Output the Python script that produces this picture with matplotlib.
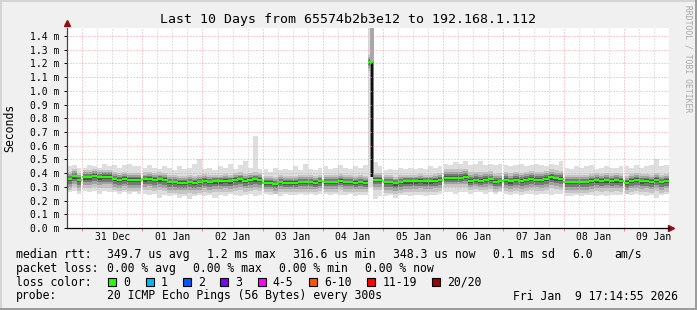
import numpy as np
import pandas as pd
import matplotlib
matplotlib.use("Agg")
import matplotlib.pyplot as plt
import matplotlib.dates as mdates
from matplotlib.patches import Rectangle

W, H = 697, 310
MONO = "DejaVu Sans Mono"

# smoke data, 2 hour bins starting 30 Dec 18:00 (values in ms)
t0 = "2025-12-30 18:00"
med = [0.357, 0.378, 0.350,
       0.370, 0.370, 0.380, 0.370, 0.375, 0.375, 0.357, 0.350, 0.360, 0.350, 0.350, 0.350,
       0.355, 0.360, 0.350, 0.355, 0.350, 0.335, 0.335, 0.330, 0.330, 0.335, 0.330, 0.335,
       0.345, 0.335, 0.340, 0.340, 0.345, 0.340, 0.350, 0.355, 0.345, 0.350, 0.355, 0.350,
       0.330, 0.330, 0.320, 0.335, 0.330, 0.330, 0.330, 0.335, 0.335, 0.335, 0.330, 0.340,
       0.335, 0.335, 0.335, 0.345, 0.335, 0.335, 0.330, 0.335, 0.330, 1.213, 0.350, 0.350,
       0.335, 0.335, 0.325, 0.335, 0.340, 0.340, 0.340, 0.345, 0.340, 0.340, 0.345, 0.350,
       0.367, 0.367, 0.367, 0.367, 0.372, 0.345, 0.352, 0.345, 0.350, 0.355, 0.335, 0.340,
       0.350, 0.340, 0.350, 0.343, 0.350, 0.357, 0.352, 0.350, 0.357, 0.370, 0.362, 0.357,
       0.335, 0.335, 0.335, 0.335, 0.335, 0.343, 0.348, 0.345, 0.348, 0.345, 0.348, 0.345,
       0.330, 0.345, 0.350, 0.342, 0.345, 0.337, 0.350, 0.335, 0.345]
hi = [0.45, 0.46, 0.44,
      0.44, 0.46, 0.45, 0.44, 0.47, 0.45, 0.46, 0.44, 0.46, 0.47, 0.45, 0.45,
      0.44, 0.46, 0.44, 0.43, 0.45, 0.44, 0.42, 0.45, 0.43, 0.44, 0.47, 0.50,
      0.43, 0.44, 0.42, 0.45, 0.44, 0.47, 0.43, 0.46, 0.49, 0.44, 0.67, 0.43,
      0.43, 0.41, 0.44, 0.42, 0.43, 0.42, 0.45, 0.42, 0.47, 0.43, 0.42, 0.44,
      0.45, 0.43, 0.44, 0.46, 0.44, 0.43, 0.45, 0.44, 0.46, 1.46, 0.48, 0.45,
      0.42, 0.43, 0.42, 0.44, 0.43, 0.44, 0.43, 0.44, 0.43, 0.45, 0.44, 0.45,
      0.47, 0.46, 0.48, 0.47, 0.49, 0.46, 0.47, 0.49, 0.46, 0.47, 0.46, 0.47,
      0.46, 0.45, 0.46, 0.47, 0.45, 0.46, 0.47, 0.46, 0.45, 0.47, 0.46, 0.49,
      0.44, 0.43, 0.45, 0.44, 0.45, 0.46, 0.43, 0.44, 0.45, 0.44, 0.44, 0.45,
      0.45, 0.44, 0.46, 0.44, 0.45, 0.46, 0.50, 0.45, 0.46]
lo = [0.26, 0.27, 0.25,
      0.27, 0.26, 0.27, 0.25, 0.27, 0.26, 0.26, 0.25, 0.26, 0.25, 0.26, 0.25,
      0.25, 0.24, 0.25, 0.22, 0.24, 0.23, 0.24, 0.22, 0.23, 0.21, 0.23, 0.24,
      0.23, 0.24, 0.22, 0.24, 0.23, 0.25, 0.24, 0.23, 0.24, 0.25, 0.23, 0.24,
      0.25, 0.24, 0.25, 0.23, 0.25, 0.24, 0.24, 0.25, 0.24, 0.25, 0.24, 0.25,
      0.25, 0.24, 0.25, 0.24, 0.24, 0.25, 0.23, 0.24, 0.24, 0.30, 0.21, 0.23,
      0.23, 0.24, 0.22, 0.24, 0.24, 0.23, 0.24, 0.24, 0.23, 0.24, 0.24, 0.25,
      0.26, 0.26, 0.25, 0.26, 0.26, 0.25, 0.26, 0.26, 0.25, 0.26, 0.25, 0.26,
      0.25, 0.24, 0.25, 0.24, 0.25, 0.25, 0.24, 0.25, 0.25, 0.24, 0.25, 0.25,
      0.23, 0.23, 0.24, 0.23, 0.24, 0.24, 0.23, 0.24, 0.23, 0.24, 0.24, 0.24,
      0.25, 0.24, 0.25, 0.24, 0.23, 0.24, 0.22, 0.24, 0.25]
# width of the dense smoke around the median, one value per day (Dec 30 .. Jan 09)
core_above = [0.05, 0.05, 0.05, 0.05, 0.05, 0.05, 0.05, 0.06, 0.06, 0.05, 0.05]
core_below = [0.08, 0.08, 0.08, 0.08, 0.07, 0.07, 0.08, 0.07, 0.08, 0.08, 0.08]

# the single outlier on 04 Jan
spike_at = "2026-01-04 19:45"
spike_low, spike_med, spike_top = 0.37, 1.213, 1.46

gap_days = ["2025-12-31", "2026-01-01", "2026-01-03", "2026-01-04", "2026-01-05",
            "2026-01-06", "2026-01-07", "2026-01-08", "2026-01-09"]
day_labels = ["31 Dec", "01 Jan", "02 Jan", "03 Jan", "04 Jan",
              "05 Jan", "06 Jan", "07 Jan", "08 Jan", "09 Jan"]
ytick_vals = [0.0, 0.1, 0.2, 0.3, 0.4, 0.5, 0.6, 0.7, 0.8, 0.9, 1.0, 1.1, 1.2, 1.3, 1.4]

loss_items = [("0", "#26ff00"), ("1", "#00b8ff"), ("2", "#0059ff"), ("3", "#7e00ff"),
              ("4-5", "#ff00ff"), ("6-10", "#ff5500"), ("11-19", "#ff0000"), ("20/20", "#a10000")]

fig = plt.figure(figsize=(W / 100, H / 100), dpi=100)
fig.patch.set_facecolor("#f0f0f0")
ax = fig.add_axes([67 / W, 82 / H, 602 / W, 200.3 / H])
ax.set_facecolor("white")

edges = pd.date_range(t0, periods=len(med) + 1, freq="2h")
x = mdates.date2num(edges.values)
left = edges[:-1]
seg = np.asarray((left.normalize() - left[0].normalize()).days)
med_a, hi_a, lo_a = np.array(med), np.array(hi), np.array(lo)
up = np.array(core_above)[seg]
dn = np.array(core_below)[seg]

def band(l, h, c):
    ax.fill_between(x, np.append(l, l[-1]), np.append(h, h[-1]), step="post",
                    color=c, lw=0, zorder=1)

band(lo_a, hi_a, "#dedede")
for f, c in zip([1.0, 0.7, 0.45, 0.22], ["#c4c4c4", "#a2a2a2", "#787878", "#4c4c4c"]):
    band(med_a - f * dn, med_a + f * up, c)

sx = mdates.date2num(pd.Timestamp(spike_at))
ax.bar(sx, spike_top - spike_med, bottom=spike_med, width=4 / 60, color="#a8a8a8", lw=0, zorder=1.5)
ax.bar(sx, spike_med - spike_low, bottom=spike_low, width=4 / 60, color="#808080", lw=0, zorder=1.5)
ax.bar(sx, spike_med - spike_low, bottom=spike_low, width=2 / 60, color="#101010", lw=0, zorder=1.6)

for d in gap_days:
    ax.axvline(mdates.date2num(pd.Timestamp(d)), color="white", lw=1.4, zorder=2)

# grid
start, end = pd.Timestamp("2025-12-30 18:00"), pd.Timestamp("2026-01-09 18:00")
for t in pd.date_range("2025-12-30 18:00", "2026-01-09 18:00", freq="6h")[1:-1]:
    red = t.hour == 0
    ax.axvline(mdates.date2num(t), color="#f4a0a0" if red else "#c8c8c8",
               lw=0.72, ls=(0, (1, 2)), zorder=3)
for v in ytick_vals[1:]:
    ax.axhline(v, color="#f4a0a0", lw=0.72, ls=(0, (1, 2)), zorder=3)

ax.hlines(med_a, x[:-1] - 0.004, x[1:] + 0.004, color="#26ff00", lw=1.6, zorder=4)

ax.set_xlim(mdates.date2num(start), mdates.date2num(end))
ax.set_ylim(0, 1.4606)

noons = mdates.date2num(pd.date_range("2025-12-31 12:00", periods=10, freq="D").values)
ax.set_xticks(noons, labels=day_labels)
ax.set_xticks(mdates.date2num(pd.date_range("2025-12-31", periods=10, freq="D").values), minor=True)
ax.tick_params(axis="x", which="major", length=0, pad=3.2, labelsize=7)
ax.tick_params(axis="x", which="minor", length=2, width=0.7, color="#f08080")
ax.set_yticks(ytick_vals, labels=[f"{v:.1f} m" for v in ytick_vals])
ax.tick_params(axis="y", length=2.5, width=0.7, pad=3, labelsize=7)
for lab in ax.get_xticklabels() + ax.get_yticklabels():
    lab.set_family(MONO)

for s in ["top", "right"]:
    ax.spines[s].set_visible(False)
ax.spines["bottom"].set_color("black")
ax.spines["bottom"].set_linewidth(0.9)
ax.spines["left"].set_color("#444444")
ax.spines["left"].set_linewidth(0.9)
ax.spines["bottom"].set_zorder(5)
ax.spines["left"].set_zorder(5)
ax.plot([0], [1.022], marker="^", ms=4, color="#8b1010", transform=ax.transAxes, clip_on=False)
ax.plot([1.004], [0], marker=">", ms=4, color="#8b1010", transform=ax.transAxes, clip_on=False)


def ftext(px, py, s, **kw):
    kw.setdefault("family", MONO)
    kw.setdefault("va", "center")
    fig.text(px / W, 1 - py / H, s, **kw)


ftext(347.6, 19.3, "Last 10 Days from 65574b2b3e12 to 192.168.1.112", size=9.5, ha="center")
ftext(10, 128, "Seconds", size=8.3, rotation=90, ha="center")
ftext(688, 59, "RRDTOOL / TOBI OETIKER", size=5.8, rotation=270, ha="center", color="#a8a8a8")

LS = 8.3
row1 = [(16, "median rtt:"), (107.3, "349.7 us avg"), (207.3, "1.2 ms max"), (293.3, "316.6 us min"),
        (393.3, "348.3 us now"), (493.3, "0.1 ms sd"), (572.3, "6.0"), (614, "am/s")]
row2 = [(16, "packet loss:"), (107.3, "0.00 % avg"), (193.3, "0.00 % max"),
        (279.3, "0.00 % min"), (365.3, "0.00 % now")]
for px, s in row1:
    ftext(px, 254.3, s, size=LS)
for px, s in row2:
    ftext(px, 268.3, s, size=LS)
ftext(16, 282.3, "loss color:", size=LS)
bx = 108.3
for lab, c in loss_items:
    fig.patches.append(Rectangle((bx / W, 1 - 286.3 / H), 8 / W, 8 / H, transform=fig.transFigure,
                                 facecolor=c, edgecolor="black", lw=0.8))
    ftext(bx + 15, 282.3, lab, size=LS)
    bx += 15 + 6.95 * len(lab) + 15.4
ftext(16, 296, "probe:", size=LS)
ftext(107.3, 296, "20 ICMP Echo Pings (56 Bytes) every 300s", size=LS)
ftext(513.3, 296, "Fri Jan  9 17:14:55 2026", size=LS)

# frame shading
fig.patches.append(Rectangle((0, 1 - 2 / H), 1, 2 / H, transform=fig.transFigure, color="#d4d4d4", lw=0))
fig.patches.append(Rectangle((0, 0), 2 / W, 1, transform=fig.transFigure, color="#d4d4d4", lw=0))
fig.patches.append(Rectangle((0, 0), 1, 2.5 / H, transform=fig.transFigure, color="#9c9c9c", lw=0))
fig.patches.append(Rectangle((1 - 2 / W, 0), 2 / W, 1, transform=fig.transFigure, color="#9c9c9c", lw=0))

fig.savefig("out.png", dpi=100, facecolor=fig.get_facecolor())
